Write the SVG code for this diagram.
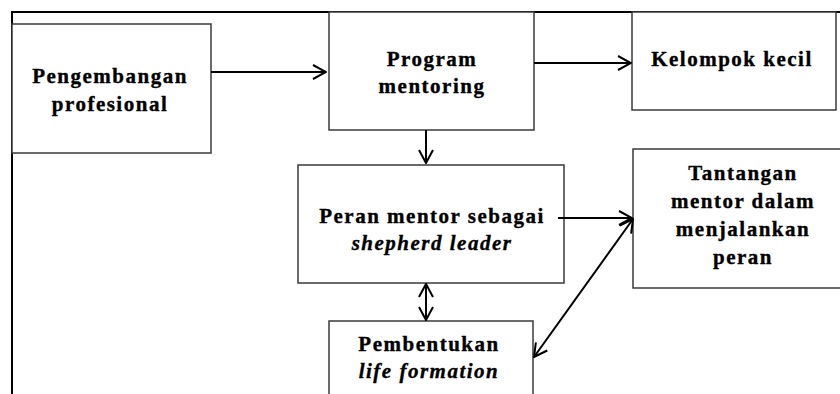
<svg xmlns="http://www.w3.org/2000/svg" width="840" height="394" viewBox="0 0 840 394">
<defs>
<style>
.box{fill:#fff;stroke:#3a3a3a;stroke-width:1.5}
.t{font-family:"Liberation Serif","Times New Roman",serif;font-weight:bold;font-size:21px;fill:#000;stroke:#000;stroke-width:0.35;text-anchor:middle;letter-spacing:1.5px}
.i{font-style:italic}
.c{fill:none;stroke:#000;stroke-width:2}
</style>
<marker id="ah" viewBox="0 0 16 16" refX="15" refY="8" markerWidth="16" markerHeight="16" markerUnits="userSpaceOnUse" orient="auto-start-reverse">
<path d="M2,1 L15,8 L2,15" fill="none" stroke="#000" stroke-width="2"/>
</marker>
</defs>
<rect width="840" height="394" fill="#fff"/>
<g id="frame">
<path d="M12,394 V12 H840" fill="none" stroke="#000" stroke-width="2"/>
</g>
<g id="n1">
<rect class="box" x="12" y="24" width="199" height="129"/>
<text class="t" x="110" y="83">Pengembangan</text>
<text class="t" x="110" y="111">profesional</text>
</g>
<g id="n2">
<rect class="box" x="329" y="12" width="205" height="118"/>
<text class="t" x="432" y="66">Program</text>
<text class="t" x="432" y="93">mentoring</text>
</g>
<g id="n3">
<rect class="box" x="632" y="12" width="204" height="98"/>
<text class="t" x="732" y="66">Kelompok kecil</text>
</g>
<g id="n4">
<rect class="box" x="298" y="165" width="266" height="118"/>
<text class="t" x="432" y="223">Peran mentor sebagai</text>
<text class="t i" x="432" y="250">shepherd leader</text>
</g>
<g id="n5">
<rect class="box" x="633" y="149" width="220" height="139"/>
<text class="t" x="743" y="180">Tantangan</text>
<text class="t" x="743" y="208">mentor dalam</text>
<text class="t" x="743" y="236">menjalankan</text>
<text class="t" x="743" y="264">peran</text>
</g>
<g id="n6">
<rect class="box" x="329" y="321" width="204" height="90"/>
<text class="t" x="429" y="351">Pembentukan</text>
<text class="t i" x="429" y="378">life formation</text>
</g>
<g id="connectors">
<line class="c" x1="211" y1="72" x2="326" y2="72" marker-end="url(#ah)"/>
<line class="c" x1="534" y1="63" x2="631" y2="63" marker-end="url(#ah)"/>
<line class="c" x1="426" y1="130" x2="426" y2="163" marker-end="url(#ah)"/>
<line class="c" x1="558" y1="218" x2="632" y2="218" marker-end="url(#ah)"/>
<line class="c" x1="426" y1="284" x2="426" y2="320" marker-start="url(#ah)" marker-end="url(#ah)"/>
<line class="c" x1="633" y1="219" x2="534" y2="357" marker-start="url(#ah)" marker-end="url(#ah)"/>
</g>
</svg>
